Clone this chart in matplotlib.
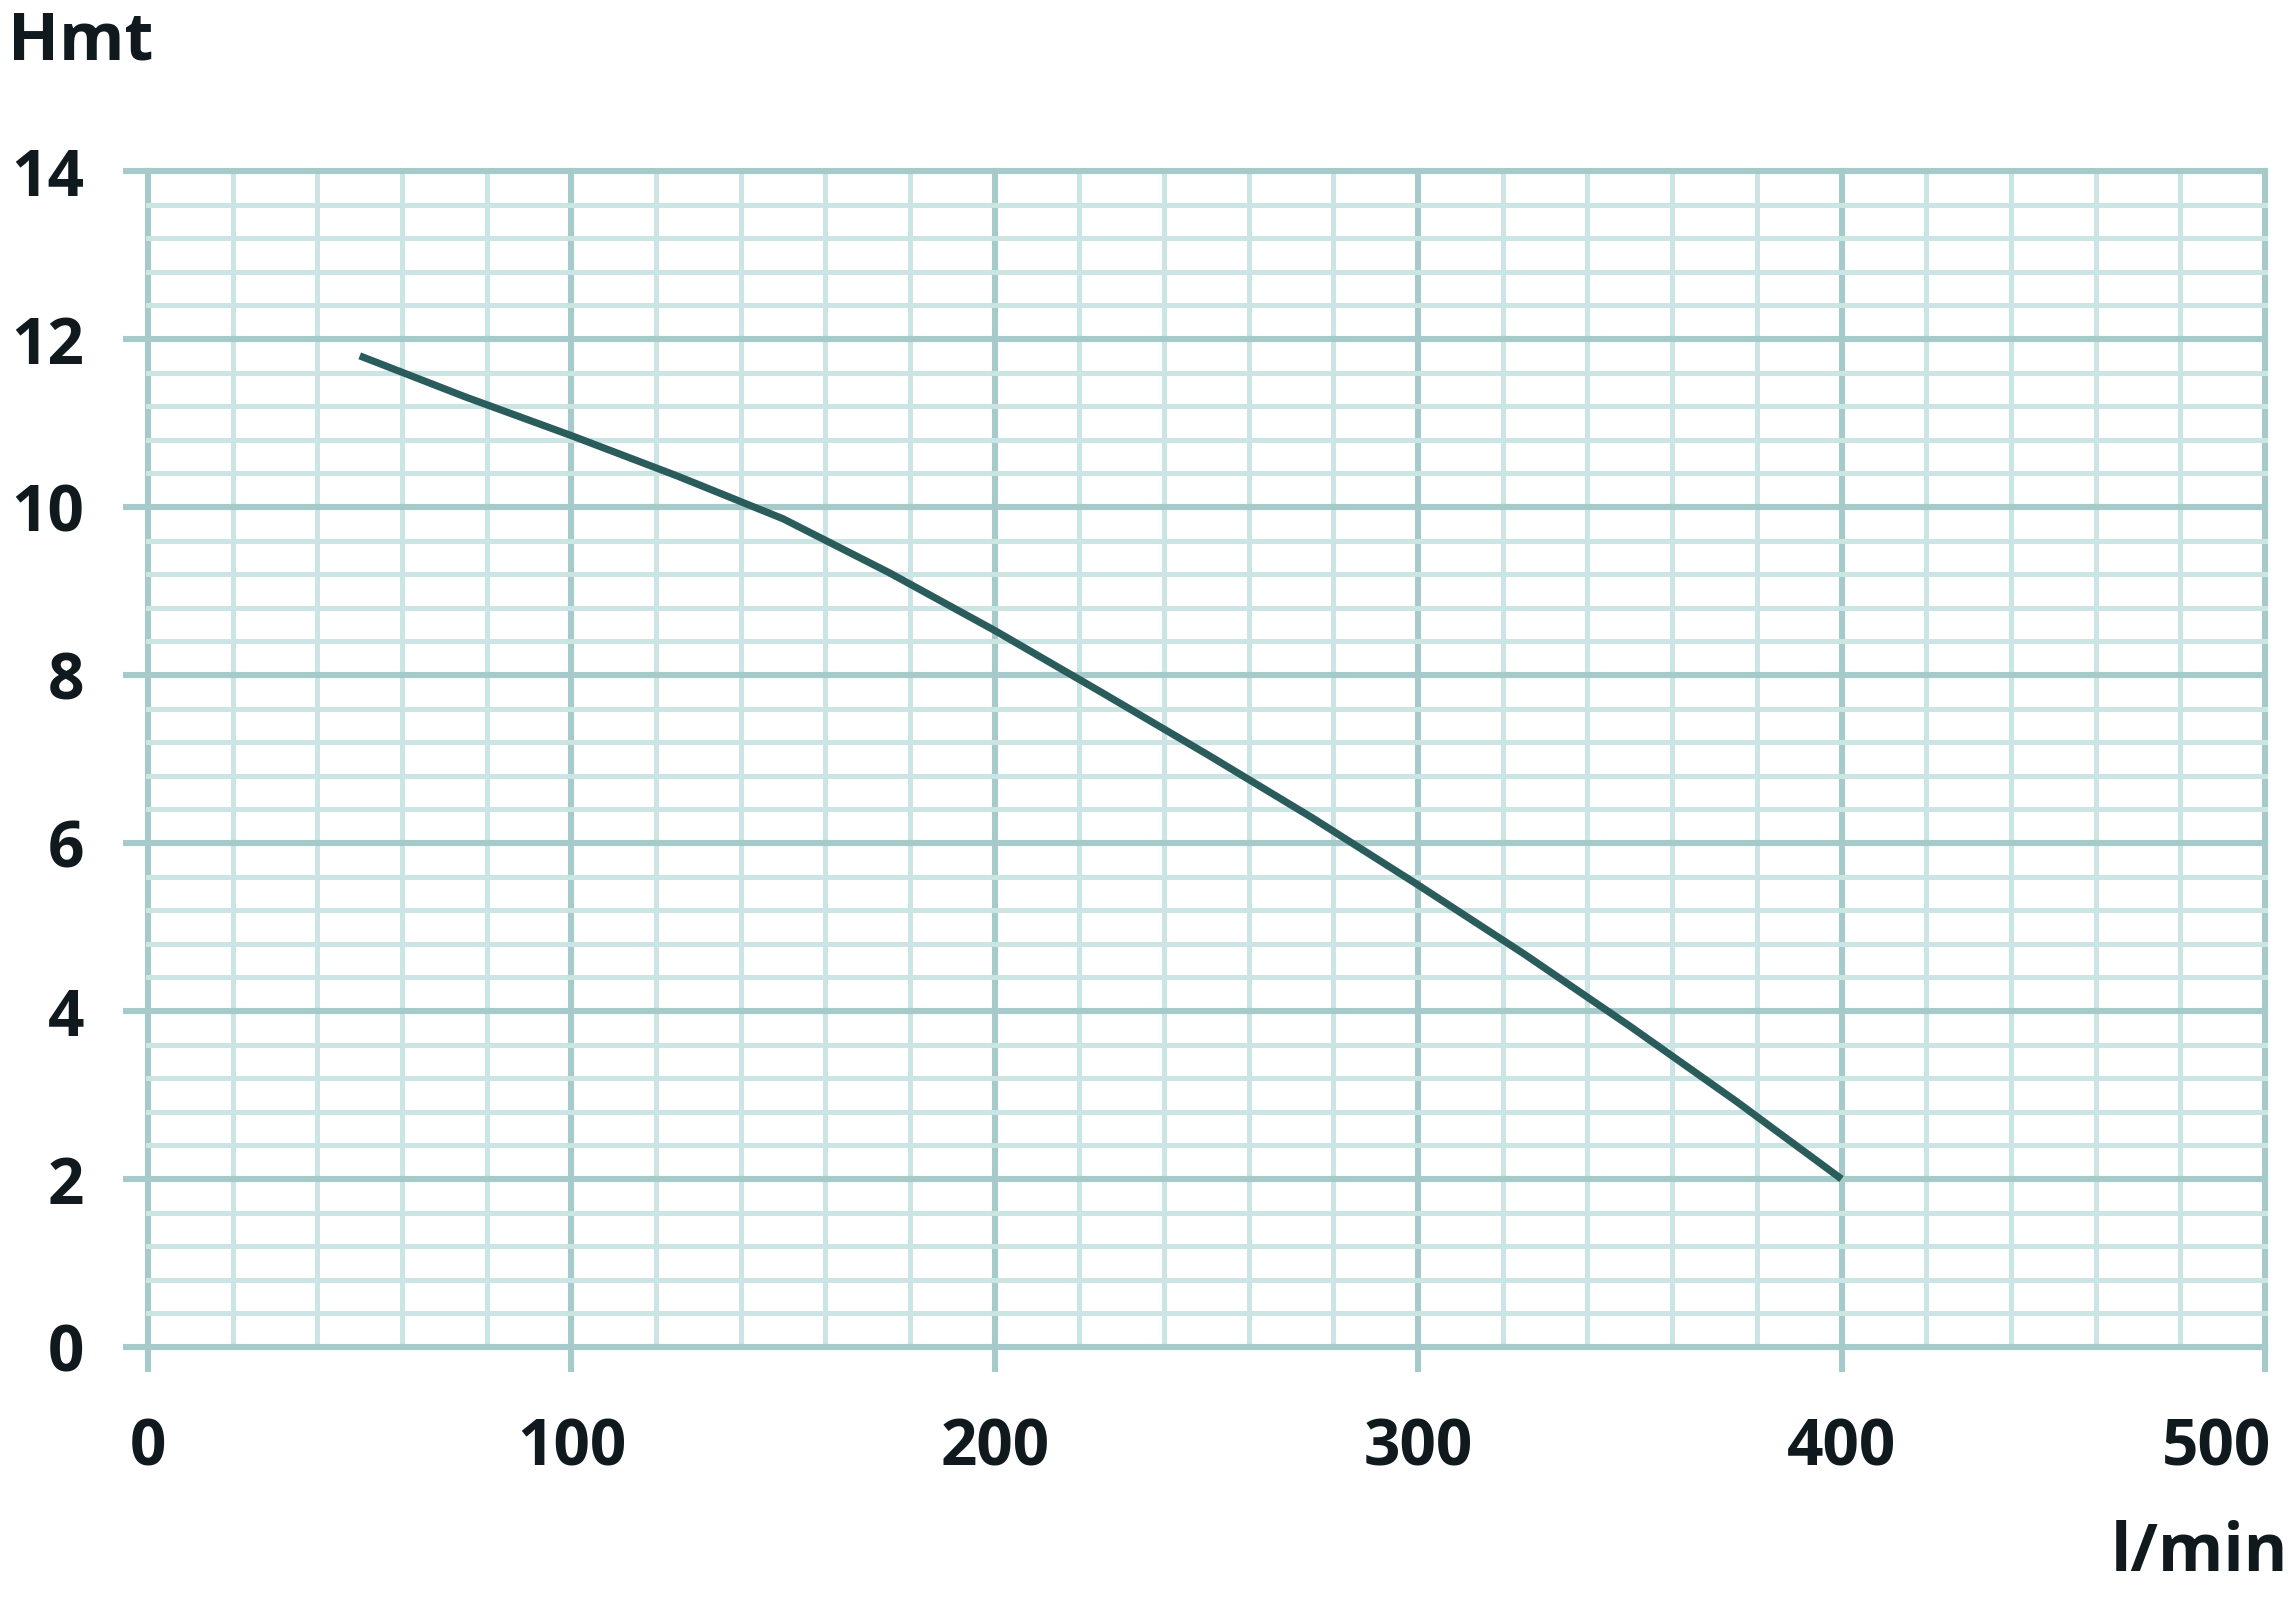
import matplotlib
matplotlib.use("Agg")
import matplotlib.pyplot as plt
from matplotlib.ticker import MultipleLocator
from matplotlib.transforms import ScaledTranslation

# Data
flow = [50, 75, 100, 125, 150, 175, 200, 225, 250, 275, 300, 325, 350, 375, 400]
head = [11.8, 11.31, 10.85, 10.37, 9.86, 9.22, 8.53, 7.8, 7.06, 6.3, 5.5, 4.68, 3.82, 2.93, 2.0]
x_ticks = [0, 100, 200, 300, 400, 500]
y_ticks = [0, 2, 4, 6, 8, 10, 12, 14]
x_label = "l/min"
y_label = "Hmt"

FONT = ["Open Sans", "DejaVu Sans"]
major_c = "#a6c9c9"
minor_c = "#cbe5e5"
curve_c = "#2b5c5c"
text_c = "#101a1e"

fig = plt.figure(figsize=(11.44, 8.015), dpi=200)
ax = fig.add_axes([0.0647, 0.1597, 0.9252, 0.7336])

ax.set_xlim(0, 500)
ax.set_ylim(0, 14)
ax.set_xticks(x_ticks)
ax.set_yticks(y_ticks)
ax.xaxis.set_minor_locator(MultipleLocator(20))
ax.yaxis.set_minor_locator(MultipleLocator(0.4))

ax.grid(which="major", color=major_c, linewidth=2.2, zorder=1)
ax.grid(which="minor", color=minor_c, linewidth=1.8, zorder=0)
for gl in ax.get_xgridlines() + ax.get_ygridlines():
    gl.set_clip_on(False)
for t in ax.xaxis.get_minor_ticks() + ax.yaxis.get_minor_ticks():
    t.gridline.set_clip_on(False)
ax.set_axisbelow(True)

for s in ax.spines.values():
    s.set_visible(False)

ax.tick_params(which="major", direction="out", length=9, width=2.2, color=major_c,
               labelsize=23, labelcolor=text_c)
ax.tick_params(which="minor", length=0)
ax.tick_params(axis="y", pad=14)
ax.tick_params(axis="x", pad=16)
for lab in ax.get_xticklabels() + ax.get_yticklabels():
    lab.set_fontfamily(FONT)
    lab.set_fontweight("bold")

# last x label sits shifted left in the reference so it nearly fits
last = ax.xaxis.get_major_ticks()[-1].label1
last.set_transform(last.get_transform() + ScaledTranslation(-0.24, 0, fig.dpi_scale_trans))

ax.plot(flow, head, color=curve_c, linewidth=2.6, solid_capstyle="butt",
        solid_joinstyle="round", zorder=5)

fig.text(0.0035, 0.974, y_label, fontsize=24, fontweight="bold", family=FONT,
         color=text_c, ha="left", va="center")
fig.text(0.9226, 0.0306, x_label, fontsize=24, fontweight="bold", family=FONT,
         color=text_c, ha="left", va="center")

fig.savefig("out.png", dpi=200, facecolor="white")
